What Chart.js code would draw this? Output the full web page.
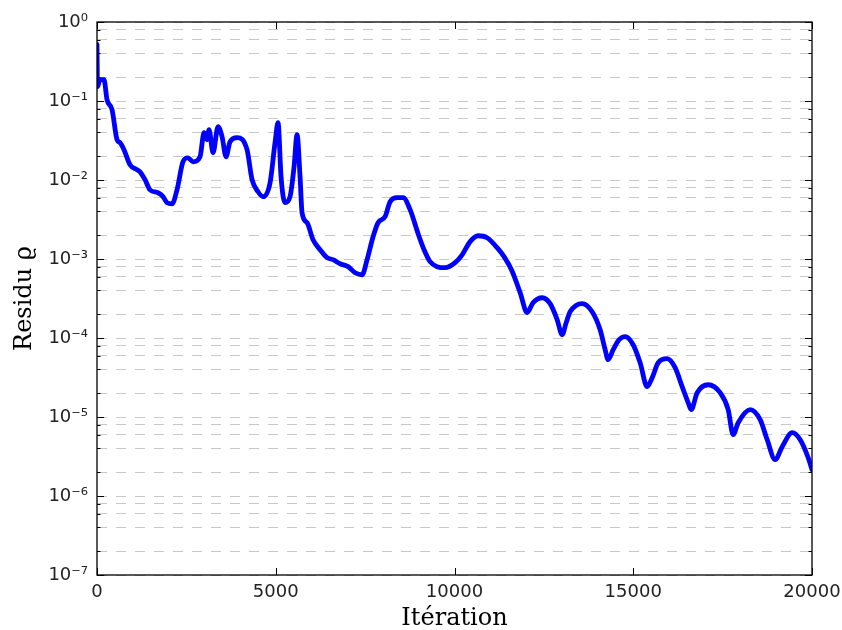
<!DOCTYPE html>
<html><head><meta charset="utf-8">
<script src="https://cdn.jsdelivr.net/npm/chart.js@4.4.0/dist/chart.umd.min.js"></script>
<style>html,body{margin:0;padding:0;background:#fff}#wrap{width:842px;height:630px}</style>
</head><body><div id="wrap"><canvas id="c" width="842" height="630"></canvas></div>
<script>
const iterations = [0,14,84,196,280,420,560,644,755,923,1119,1203,1343,1483,1707,1847,1959,2099,2238,2406,2546,2686,2882,2994,3078,3134,3246,3386,3498,3609,3721,3917,4197,4337,4505,4645,4841,4980,5064,5148,5260,5400,5512,5596,5680,5736,5876,6044,6240,6435,6603,6799,7023,7219,7415,7555,7722,7862,8058,8198,8394,8562,8758,8982,9149,9317,9513,9737,10017,10213,10437,10660,10912,11192,11400,11600,11836,12031,12199,12451,12675,12871,13011,13123,13235,13400,13570,13850,14074,14214,14298,14438,14606,14773,14997,15193,15389,15529,15697,15947,16172,16368,16536,16620,16788,17096,17431,17655,17795,17935,18270,18550,18746,18970,19166,19446,19670,19894,20000];
const residu = [0.52,0.152,0.186,0.186,0.104,0.078,0.0324,0.0297,0.0242,0.0156,0.0135,0.0127,0.0101,0.0075,0.0069,0.00615,0.00516,0.005,0.0075,0.017,0.0191,0.017,0.0197,0.0397,0.0324,0.0433,0.0222,0.0473,0.0353,0.0197,0.0305,0.0343,0.0242,0.0101,0.0071,0.00615,0.00925,0.0297,0.0531,0.011,0.00516,0.00615,0.0147,0.0374,0.011,0.00385,0.00288,0.00175,0.00131,0.00104,0.00098,0.00087,0.0008,0.00067,0.00063,0.00098,0.00191,0.00288,0.00343,0.00531,0.00597,0.00597,0.00421,0.00209,0.00131,0.000925,0.0008,0.000776,0.000898,0.00113,0.00166,0.00197,0.00186,0.00139,0.00105,0.00072,0.000375,0.00021,0.00028,0.000323,0.000272,0.000171,0.00011,0.000156,0.000215,0.000258,0.000272,0.000215,0.000127,0.0000711,0.0000531,0.0000711,0.0000951,0.000104,0.0000822,0.0000486,0.0000242,0.0000314,0.0000486,0.0000547,0.0000421,0.0000242,0.0000152,0.0000124,0.0000203,0.0000256,0.0000203,0.0000124,0.00000597,0.00000847,0.0000124,0.00000925,0.00000516,0.00000288,0.00000421,0.00000634,0.00000516,0.00000305,0.00000215];
const xTickValues = [0,5000,10000,15000,20000];
const yMajorValues = [1e-7,1e-6,1e-5,1e-4,1e-3,1e-2,1e-1,1];
const yMajorLabels = ['10⁻⁷','10⁻⁶','10⁻⁵','10⁻⁴','10⁻³','10⁻²','10⁻¹','10⁰'];
const yMinorFactors = [2,4,6,8];
const xTitle = 'Itération';
const yTitle = 'Residu ϱ';

const yTickValues = [];
yMajorValues.forEach((m,i)=>{ yTickValues.push(m); if(i<yMajorValues.length-1) yMinorFactors.forEach(f=>yTickValues.push(+(m*f).toPrecision(3))); });
function majorIndex(v){ return yMajorValues.findIndex(m=>Math.abs(Math.log10(v)-Math.log10(m))<1e-6); }

const frameTicks = {
  id:'frameTicks',
  afterDatasetsDraw(chart){
    const {ctx, chartArea:a, scales:{x,y}} = chart;
    ctx.save();
    ctx.strokeStyle = '#000'; ctx.lineWidth = 1;
    ctx.beginPath();
    yTickValues.forEach(v=>{
      const py = Math.round(y.getPixelForValue(v))+0.5;
      const L = majorIndex(v)>=0 ? 7 : 3.5;
      ctx.moveTo(a.left, py); ctx.lineTo(a.left+L, py);
      ctx.moveTo(a.right, py); ctx.lineTo(a.right-L, py);
    });
    xTickValues.forEach(v=>{
      const px = Math.round(x.getPixelForValue(v))+0.5;
      ctx.moveTo(px, a.bottom); ctx.lineTo(px, a.bottom-7);
      ctx.moveTo(px, a.top); ctx.lineTo(px, a.top+7);
    });
    ctx.stroke();
    ctx.lineWidth = 1.3;
    ctx.strokeRect(a.left, a.top, a.right-a.left, a.bottom-a.top);
    ctx.restore();
  }
};

new Chart(document.getElementById('c'), {
  type:'line',
  data:{ datasets:[{
    data: iterations.map((it,i)=>({x:it, y:residu[i]})),
    borderColor:'#0000ff', borderWidth:4.8, pointRadius:0,
    cubicInterpolationMode:'monotone', borderJoinStyle:'round', borderCapStyle:'round', fill:false
  }]},
  options:{
    responsive:false, animation:false, devicePixelRatio:1,
    layout:{padding:{left:0,top:22,right:30,bottom:0}},
    plugins:{legend:{display:false}, tooltip:{enabled:false}},
    scales:{
      x:{ type:'linear', min:0, max:20000,
        afterBuildTicks(s){ s.ticks = xTickValues.map(v=>({value:v})); },
        afterFit(s){ s.height = 55; s.paddingLeft = 0; s.paddingRight = 0; },
        grid:{display:false, drawTicks:false},
        border:{display:false},
        ticks:{ autoSkip:false, maxRotation:0, padding:7, color:'#222', font:{family:'DejaVu Sans', size:18}, callback:v=>String(v) },
        title:{ display:true, text:xTitle, color:'#000', font:{family:'DejaVu Serif', size:24}, padding:{top:0,bottom:-3} }
      },
      y:{ type:'logarithmic', min:1e-7, max:1,
        afterBuildTicks(s){ s.ticks = yTickValues.map(v=>({value:v, major: majorIndex(v)>=0})); },
        afterFit(s){ s.width = 97; s.paddingTop = 0; s.paddingBottom = 0; },
        grid:{ color:'#c8c8c8', lineWidth:1, drawTicks:false },
        border:{ display:false, dash:[10,9] },
        ticks:{ autoSkip:false, padding:9, color:'#222', font:{family:'DejaVu Sans', size:18},
          callback:(v)=>{ const i = majorIndex(v); return i>=0 ? yMajorLabels[i] : ''; } },
        title:{ display:true, text:yTitle, color:'#000', font:{family:'DejaVu Serif', size:24}, padding:{top:10,bottom:0} }
      }
    }
  },
  plugins:[frameTicks]
});
</script></body></html>
